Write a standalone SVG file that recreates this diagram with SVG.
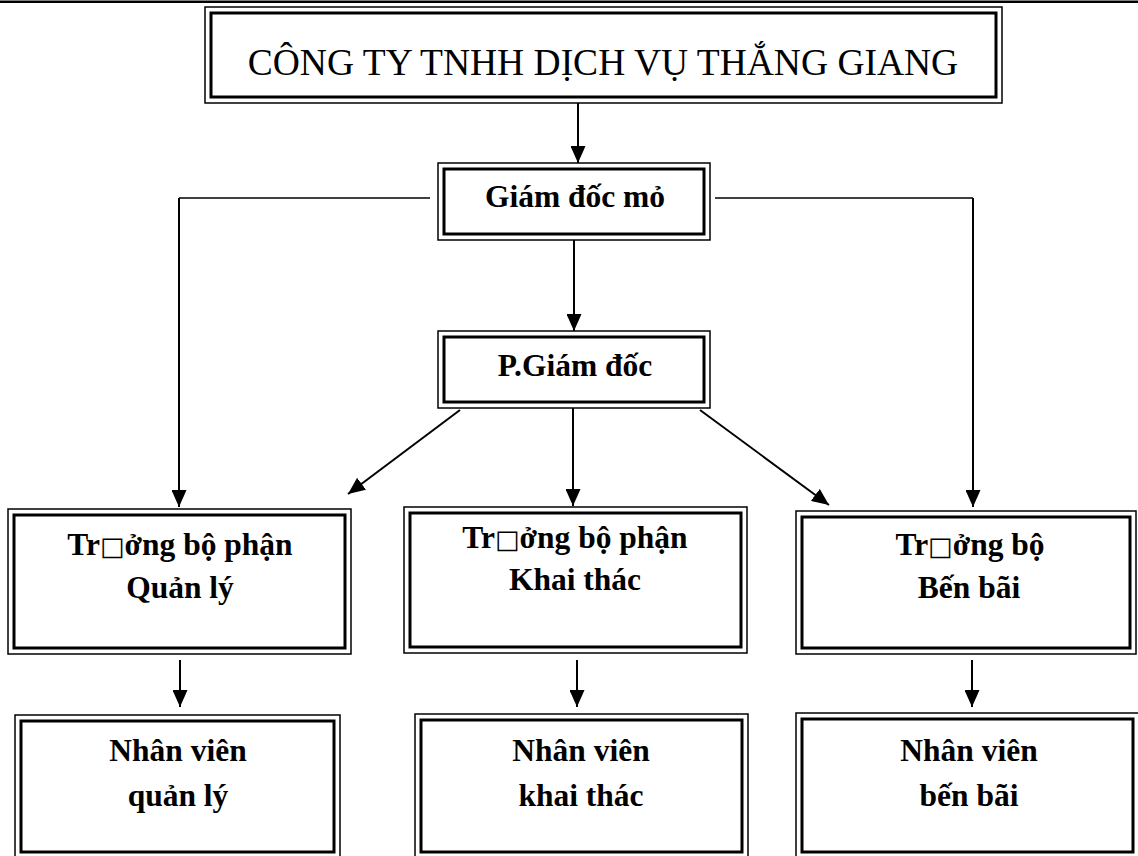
<svg xmlns="http://www.w3.org/2000/svg" width="1138" height="856" viewBox="0 0 1138 856">
<style>
.o{fill:none;stroke:#000;stroke-width:1.5}
.i{fill:none;stroke:#000;stroke-width:3}
.t{font-family:"Liberation Serif","Times New Roman",serif;fill:#000;text-anchor:middle}
.b{font-weight:bold;font-size:31.5px}
.c{stroke:#000;stroke-width:2;fill:none}
.h{stroke:#000;stroke-width:1.5;fill:none}
.sq{font-family:"DejaVu Sans",sans-serif;font-weight:normal;font-size:26px}
</style>
<defs>
<marker id="ah" markerUnits="userSpaceOnUse" markerWidth="17" markerHeight="15" refX="17" refY="7.5" orient="auto">
<path d="M0,0 L17,7.5 L0,15 Z" fill="#000"/>
</marker>
</defs>
<rect width="1138" height="856" fill="#fff"/>
<line x1="0" y1="1.8" x2="1138" y2="1.8" stroke="#000" stroke-width="2.5"/>

<g id="company">
<rect class="o" x="205" y="7" width="797" height="96"/>
<rect class="i" x="211" y="13" width="785" height="84"/>
<text class="t" x="603" y="75" font-size="37.5">CÔNG TY TNHH DỊCH VỤ THẮNG GIANG</text>
</g>

<g id="giamdocmo">
<rect class="o" x="438" y="163" width="272" height="77"/>
<rect class="i" x="444" y="169" width="260" height="65"/>
<text class="t b" x="575" y="207">Giám đốc mỏ</text>
</g>

<g id="phogiamdoc">
<rect class="o" x="438" y="331" width="272" height="77"/>
<rect class="i" x="444" y="337" width="260" height="65"/>
<text class="t b" x="575" y="376">P.Giám đốc</text>
</g>

<g id="tb-quanly">
<rect class="o" x="8" y="509" width="343" height="145"/>
<rect class="i" x="14" y="515" width="331" height="133"/>
<text class="t b" x="180" y="555">Tr<tspan class="sq">□</tspan>ởng bộ phận</text>
<text class="t b" x="180" y="598">Quản lý</text>
</g>

<g id="tb-khaithac">
<rect class="o" x="404" y="507" width="343" height="146"/>
<rect class="i" x="410" y="513" width="331" height="134"/>
<text class="t b" x="575" y="548">Tr<tspan class="sq">□</tspan>ởng bộ phận</text>
<text class="t b" x="575" y="590">Khai thác</text>
</g>

<g id="tb-benbai">
<rect class="o" x="796" y="511" width="340" height="143"/>
<rect class="i" x="802" y="517" width="328" height="131"/>
<text class="t b" x="970" y="555">Tr<tspan class="sq">□</tspan>ởng bộ</text>
<text class="t b" x="969" y="598">Bến bãi</text>
</g>

<g id="nv-quanly">
<rect class="o" x="15" y="715" width="325" height="145"/>
<rect class="i" x="21" y="721" width="313" height="131"/>
<text class="t b" x="178" y="761">Nhân viên</text>
<text class="t b" x="178" y="806">quản lý</text>
</g>

<g id="nv-khaithac">
<rect class="o" x="415" y="714" width="333" height="146"/>
<rect class="i" x="421" y="720" width="321" height="132"/>
<text class="t b" x="581" y="761">Nhân viên</text>
<text class="t b" x="581" y="806">khai thác</text>
</g>

<g id="nv-benbai">
<rect class="o" x="796" y="713" width="345" height="147"/>
<rect class="i" x="802" y="719" width="331" height="133"/>
<text class="t b" x="969" y="761">Nhân viên</text>
<text class="t b" x="969" y="806">bến bãi</text>
</g>

<g id="connectors">
<line class="c" x1="578" y1="103" x2="578" y2="163" marker-end="url(#ah)"/>
<polyline class="h" points="430,198 179,198"/>
<line class="c" x1="179" y1="198" x2="179" y2="507" marker-end="url(#ah)"/>
<polyline class="h" points="715,198 973,198"/>
<line class="c" x1="973" y1="198" x2="973" y2="507" marker-end="url(#ah)"/>
<line class="c" x1="574" y1="240" x2="574" y2="331" marker-end="url(#ah)"/>
<line class="c" x1="460" y1="410" x2="348" y2="494" marker-end="url(#ah)"/>
<line class="c" x1="573" y1="408" x2="573" y2="506" marker-end="url(#ah)"/>
<line class="c" x1="700" y1="410" x2="829" y2="505" marker-end="url(#ah)"/>
<line class="c" x1="180" y1="660" x2="180" y2="707" marker-end="url(#ah)"/>
<line class="c" x1="577" y1="660" x2="577" y2="707" marker-end="url(#ah)"/>
<line class="c" x1="972" y1="660" x2="972" y2="707" marker-end="url(#ah)"/>
</g>
</svg>
